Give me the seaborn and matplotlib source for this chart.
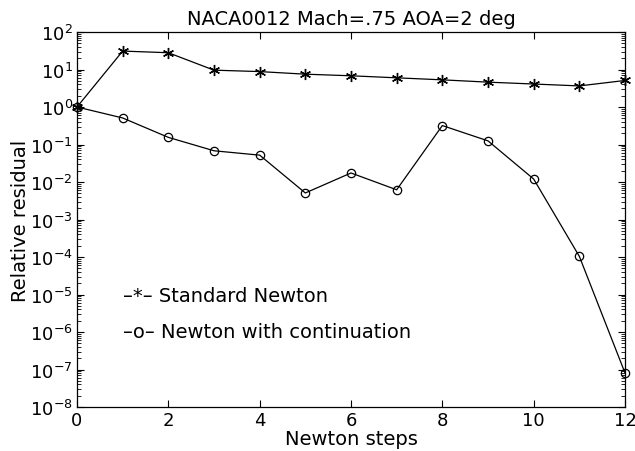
import numpy as np
import pandas as pd
import matplotlib
matplotlib.use("Agg")
import matplotlib.pyplot as plt
import matplotlib.ticker as mticker
import seaborn as sns

steps = list(range(13))
standard_newton = [1.0, 31, 28, 9.6, 8.8, 7.5, 6.8, 6.0, 5.3, 4.6, 4.1, 3.65, 5.1]
newton_continuation = [1.0, 0.51, 0.155, 0.068, 0.052, 0.0051, 0.0174, 0.0062,
                       0.32, 0.125, 0.012, 1.04e-4, 8.1e-8]
y_exponents = list(range(-8, 3))
x_ticks = list(range(0, 13, 2))
title = "NACA0012 Mach=.75 AOA=2 deg"
xlabel = "Newton steps"
ylabel = "Relative residual"
legend_labels = ["\u2013*\u2013 Standard Newton", "\u2013o\u2013 Newton with continuation"]

sns.set_theme(style="white")
plt.rcParams["font.family"] = ["DejaVu Sans"]
plt.rcParams["mathtext.fontset"] = "dejavusans"
plt.rcParams["mathtext.default"] = "regular"
plt.rcParams["text.color"] = "black"
plt.rcParams["axes.labelcolor"] = "black"

df = pd.DataFrame({"step": steps, "std": standard_newton, "cont": newton_continuation})

fig = plt.figure(figsize=(6.35, 4.52), dpi=100)
ax = fig.add_axes([77 / 635, 1 - 408 / 452, (625 - 77) / 635, (408 - 33) / 452])

sns.lineplot(data=df, x="step", y="std", ax=ax, color="black", linewidth=0.9,
             marker=(6, 2, 0), markersize=8, markeredgewidth=1.0,
             markeredgecolor="black", clip_on=False)
sns.lineplot(data=df, x="step", y="cont", ax=ax, color="black", linewidth=0.9,
             marker="o", markersize=6, markerfacecolor="none",
             markeredgecolor="black", markeredgewidth=0.9, clip_on=False)

ax.set_yscale("log")
ax.set_xlim(0, 12)
ax.set_ylim(1e-8, 1e2)
ax.set_xticks(x_ticks)
yt = [10.0 ** e for e in y_exponents]
ax.set_yticks(yt)
ax.set_yticklabels([r"$10^{%d}$" % e for e in y_exponents])
minor = [m * 10.0 ** e for e in y_exponents[:-1] for m in range(2, 10)]
ax.set_yticks(minor, minor=True)
ax.set_yticklabels([], minor=True)

ax.tick_params(axis="both", which="both", direction="in", top=True, right=True,
               left=True, bottom=True, labelsize=13, colors="black", pad=3)
ax.tick_params(axis="both", which="major", length=5, width=0.8)
ax.tick_params(axis="y", which="minor", length=3, width=0.6)
for s in ax.spines.values():
    s.set_color("black")
    s.set_linewidth(0.9)

ax.set_title(title, fontsize=14, pad=6, color="black")
ax.set_xlabel(xlabel, fontsize=14, labelpad=0)
ax.set_ylabel(ylabel, fontsize=14, labelpad=0)

ax.text(46 / 548, 1 - 264 / 375, legend_labels[0], transform=ax.transAxes,
        fontsize=14, va="center", ha="left", color="black")
ax.text(46 / 548, 1 - 300 / 375, legend_labels[1], transform=ax.transAxes,
        fontsize=14, va="center", ha="left", color="black")

fig.savefig("out.png", dpi=100)
